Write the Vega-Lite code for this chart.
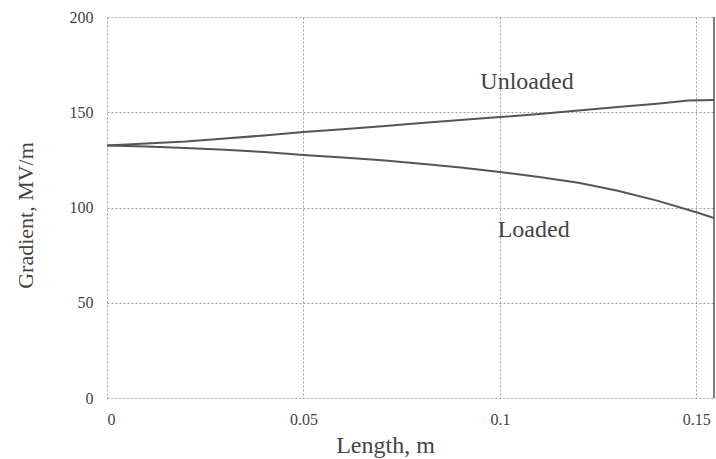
{
  "$schema": "https://vega.github.io/schema/vega-lite/v6.json",
  "width": 607,
  "height": 381,
  "autosize": {"type": "none"},
  "padding": {"left": 107, "top": 17, "right": 2, "bottom": 61},
  "background": "white",
  "config": {
    "view": {"stroke": null},
    "font": "Liberation Serif",
    "axis": {
      "domain": false,
      "ticks": false,
      "gridColor": "#a0a0a0",
      "gridDash": [2, 2],
      "gridWidth": 1,
      "labelFont": "Liberation Serif",
      "titleFont": "Liberation Serif",
      "labelColor": "#444",
      "titleColor": "#444",
      "labelFontSize": 16,
      "titleFontSize": 22,
      "titleFontWeight": "normal"
    }
  },
  "datasets": {
    "curves": [
      {"length": 0.0, "gradient": 132.5, "series": "Unloaded"},
      {"length": 0.01, "gradient": 133.6, "series": "Unloaded"},
      {"length": 0.02, "gradient": 134.6, "series": "Unloaded"},
      {"length": 0.03, "gradient": 136.2, "series": "Unloaded"},
      {"length": 0.04, "gradient": 137.8, "series": "Unloaded"},
      {"length": 0.05, "gradient": 139.6, "series": "Unloaded"},
      {"length": 0.06, "gradient": 141.1, "series": "Unloaded"},
      {"length": 0.07, "gradient": 142.7, "series": "Unloaded"},
      {"length": 0.08, "gradient": 144.3, "series": "Unloaded"},
      {"length": 0.09, "gradient": 145.9, "series": "Unloaded"},
      {"length": 0.1, "gradient": 147.5, "series": "Unloaded"},
      {"length": 0.11, "gradient": 149.1, "series": "Unloaded"},
      {"length": 0.12, "gradient": 150.9, "series": "Unloaded"},
      {"length": 0.13, "gradient": 152.8, "series": "Unloaded"},
      {"length": 0.14, "gradient": 154.5, "series": "Unloaded"},
      {"length": 0.148, "gradient": 156.2, "series": "Unloaded"},
      {"length": 0.1545, "gradient": 156.4, "series": "Unloaded"},
      {"length": 0.0, "gradient": 132.5, "series": "Loaded"},
      {"length": 0.01, "gradient": 132.0, "series": "Loaded"},
      {"length": 0.02, "gradient": 131.2, "series": "Loaded"},
      {"length": 0.03, "gradient": 130.3, "series": "Loaded"},
      {"length": 0.04, "gradient": 129.1, "series": "Loaded"},
      {"length": 0.05, "gradient": 127.6, "series": "Loaded"},
      {"length": 0.06, "gradient": 126.3, "series": "Loaded"},
      {"length": 0.07, "gradient": 124.8, "series": "Loaded"},
      {"length": 0.08, "gradient": 123.0, "series": "Loaded"},
      {"length": 0.09, "gradient": 121.0, "series": "Loaded"},
      {"length": 0.1, "gradient": 118.6, "series": "Loaded"},
      {"length": 0.11, "gradient": 116.0, "series": "Loaded"},
      {"length": 0.12, "gradient": 113.0, "series": "Loaded"},
      {"length": 0.13, "gradient": 108.8, "series": "Loaded"},
      {"length": 0.14, "gradient": 103.6, "series": "Loaded"},
      {"length": 0.15, "gradient": 97.5, "series": "Loaded"},
      {"length": 0.1545, "gradient": 94.5, "series": "Loaded"}
    ],
    "labels": [
      {"length": 0.1069, "gradient": 165.9, "text": "Unloaded"},
      {"length": 0.1086, "gradient": 88.2, "text": "Loaded"}
    ],
    "edge": [{"length": 0.1545}]
  },
  "layer": [
    {
      "data": {"name": "curves"},
      "mark": {"type": "line", "color": "#555", "strokeWidth": 2, "clip": true},
      "encoding": {
        "x": {
          "field": "length",
          "type": "quantitative",
          "scale": {"domain": [0, 0.1545], "nice": false, "zero": false},
          "axis": {
            "values": [0, 0.05, 0.1, 0.15],
            "format": "~g",
            "labelPadding": 13,
            "title": "Length, m",
            "titleFontSize": 24,
            "titleX": 278,
            "titleY": 47,
            "titleBaseline": "middle",
            "titleAnchor": null
          }
        },
        "y": {
          "field": "gradient",
          "type": "quantitative",
          "scale": {"domain": [0, 200], "nice": false},
          "axis": {
            "values": [0, 50, 100, 150, 200],
            "labelPadding": 14,
            "title": "Gradient, MV/m",
            "titleX": -82,
            "titleY": 198,
            "titleAngle": -90,
            "titleBaseline": "middle",
            "titleAnchor": null
          }
        },
        "detail": {"field": "series"}
      }
    },
    {
      "data": {"name": "edge"},
      "mark": {"type": "rule", "color": "#555", "strokeWidth": 1.5},
      "encoding": {
        "x": {"field": "length", "type": "quantitative"}
      }
    },
    {
      "data": {"name": "labels"},
      "mark": {"type": "text", "font": "Liberation Serif", "fontSize": 24, "color": "#444", "align": "center", "baseline": "middle"},
      "encoding": {
        "x": {"field": "length", "type": "quantitative"},
        "y": {"field": "gradient", "type": "quantitative"},
        "text": {"field": "text"}
      }
    }
  ]
}
